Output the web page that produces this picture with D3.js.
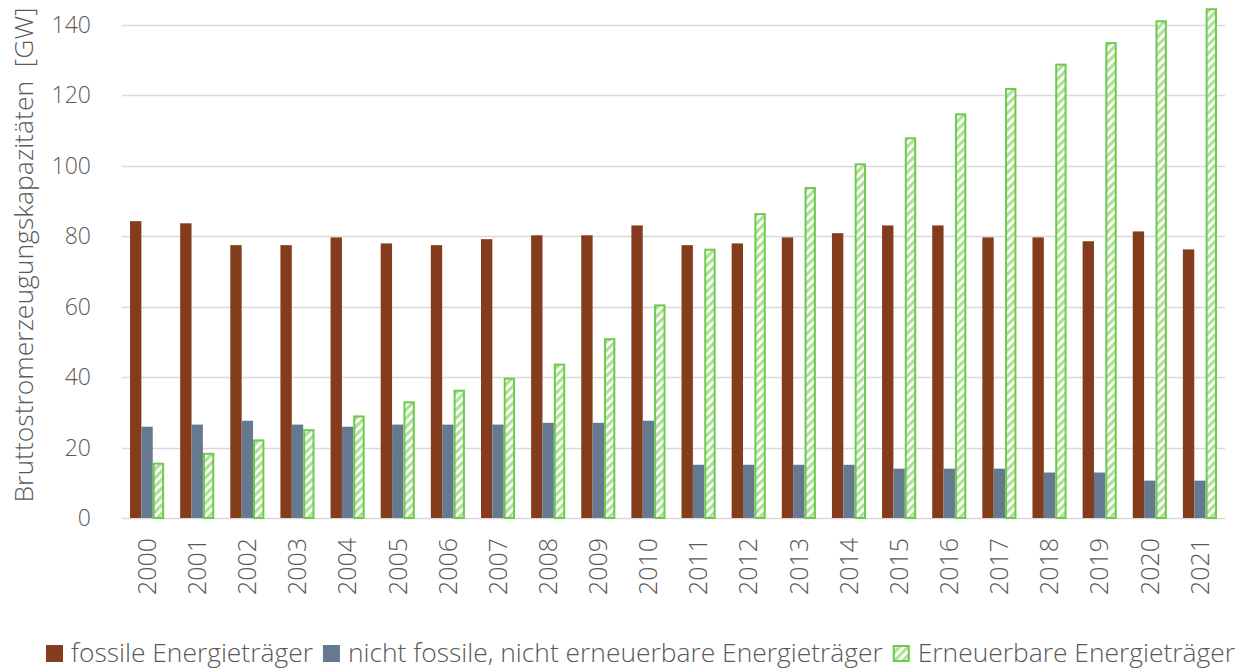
<!DOCTYPE html>
<html>
<head>
<meta charset="utf-8">
<script src="https://cdn.jsdelivr.net/npm/d3@7"></script>
<style>
  body { margin: 0; background: #fff; }
  svg text { font-family: "Open Sans", sans-serif; font-weight: 300; fill: #595959; }
</style>
</head>
<body>
<div id="chart"></div>
<script>
// data
var years = ["2000","2001","2002","2003","2004","2005","2006","2007","2008","2009","2010",
             "2011","2012","2013","2014","2015","2016","2017","2018","2019","2020","2021"];
var fossil = [84.2, 83.6, 77.4, 77.4, 79.6, 77.9, 77.4, 79.1, 80.2, 80.2, 83.0,
              77.4, 77.9, 79.6, 80.8, 83.0, 83.0, 79.6, 79.6, 78.5, 81.3, 76.2];
var nonFossil = [25.9, 26.5, 27.6, 26.5, 25.9, 26.5, 26.5, 26.5, 27.0, 27.0, 27.6,
                 15.1, 15.1, 15.1, 15.1, 14.0, 14.0, 14.0, 12.9, 12.9, 10.6, 10.6];
var renewable = [15.7, 18.5, 22.3, 25.2, 29.1, 33.1, 36.4, 39.8, 43.8, 51.0, 60.6,
                 76.4, 86.5, 93.9, 100.6, 108.0, 114.8, 122.0, 128.9, 135.0, 141.2, 144.6];
var seriesNames = ["fossile Energieträger", "nicht fossile, nicht erneuerbare Energieträger", "Erneuerbare Energieträger"];
var yTicks = [0, 20, 40, 60, 80, 100, 120, 140];

var width = 1252, height = 670;
var plot = { left: 122, right: 1225, top: 24.5, bottom: 518 };

var svg = d3.select("#chart").append("svg")
    .attr("width", width)
    .attr("height", height);

// hatch for the renewables
var defs = svg.append("defs");
var pat = defs.append("pattern")
    .attr("id", "hatch")
    .attr("patternUnits", "userSpaceOnUse")
    .attr("width", 6).attr("height", 6)
    .attr("patternTransform", "rotate(45)");
pat.append("rect").attr("width", 6).attr("height", 6).attr("fill", "#ffffff");
pat.append("rect").attr("width", 3.2).attr("height", 6).attr("fill", "#b0e098");

var y = d3.scaleLinear().domain([0, 140]).range([plot.bottom, plot.top]);
var x0 = d3.scaleBand().domain(years).range([plot.left, plot.right])
    .paddingInner(0.32).paddingOuter(0.16);
var keys = ["fossil", "nonFossil", "renewable"];
var x1 = d3.scaleBand().domain(keys).range([0, x0.bandwidth()]);

// gridlines
svg.append("g")
    .selectAll("line")
    .data(yTicks)
    .enter().append("line")
    .attr("x1", plot.left).attr("x2", plot.right)
    .attr("y1", function (d) { return Math.round(y(d)) + 0.5; })
    .attr("y2", function (d) { return Math.round(y(d)) + 0.5; })
    .attr("stroke", "#d9d9d9")
    .attr("stroke-width", 1.5);

// y axis labels
svg.append("g")
    .selectAll("text")
    .data(yTicks)
    .enter().append("text")
    .attr("x", 91)
    .attr("y", function (d) { return y(d); })
    .attr("dy", "0.35em")
    .attr("text-anchor", "end")
    .style("font-size", "23px")
    .text(function (d) { return d; });

svg.append("text")
    .attr("transform", "translate(33," + 255 + ") rotate(-90)")
    .attr("text-anchor", "middle")
    .style("font-size", "26.5px")
    .text("Bruttostromerzeugungskapazitäten\u00a0\u00a0[GW]");

var rows = years.map(function (yr, i) {
    return { year: yr, fossil: fossil[i], nonFossil: nonFossil[i], renewable: renewable[i] };
});

var fills = { fossil: "#843c1d", nonFossil: "#657990", renewable: "url(#hatch)" };

var groups = svg.append("g")
    .selectAll("g")
    .data(rows)
    .enter().append("g")
    .attr("transform", function (d) { return "translate(" + x0(d.year) + ",0)"; });

groups.selectAll("rect")
    .data(function (d) { return keys.map(function (k) { return { key: k, value: d[k] }; }); })
    .enter().append("rect")
    .attr("x", function (d) { return x1(d.key) + (d.key == "renewable" ? 1 : 0); })
    .attr("y", function (d) { return y(d.value) + (d.key == "renewable" ? 1 : 0); })
    .attr("width", function (d) { return x1.bandwidth() - (d.key == "renewable" ? 2 : 0); })
    .attr("height", function (d) { return plot.bottom - y(d.value) - (d.key == "renewable" ? 1 : 0); })
    .attr("fill", function (d) { return fills[d.key]; })
    .attr("stroke", function (d) { return d.key == "renewable" ? "#6ccb4c" : "none"; })
    .attr("stroke-width", 2);

// x labels, rotated
svg.append("g")
    .selectAll("text")
    .data(years)
    .enter().append("text")
    .attr("transform", function (d) {
        return "translate(" + (x0(d) + x0.bandwidth() / 2) + ",538) rotate(-90)";
    })
    .attr("dy", "0.35em")
    .attr("text-anchor", "end")
    .style("font-size", "25px")
    .text(function (d) { return d; });

// legend
var legend = svg.append("g");
var lx = 46;
seriesNames.forEach(function (name, i) {
    legend.append("rect")
        .attr("x", lx + (i == 2 ? 1 : 0)).attr("y", 645 + (i == 2 ? 1 : 0))
        .attr("width", i == 2 ? 15 : 17).attr("height", i == 2 ? 15 : 17)
        .attr("fill", fills[keys[i]])
        .attr("stroke", i == 2 ? "#6ccb4c" : "none")
        .attr("stroke-width", 2);
    var t = legend.append("text")
        .attr("x", lx + 25)
        .attr("y", 662)
        .style("font-size", "26.4px")
        .text(name);
    lx += 25 + t.node().getComputedTextLength() + 10;
});
</script>
</body>
</html>
